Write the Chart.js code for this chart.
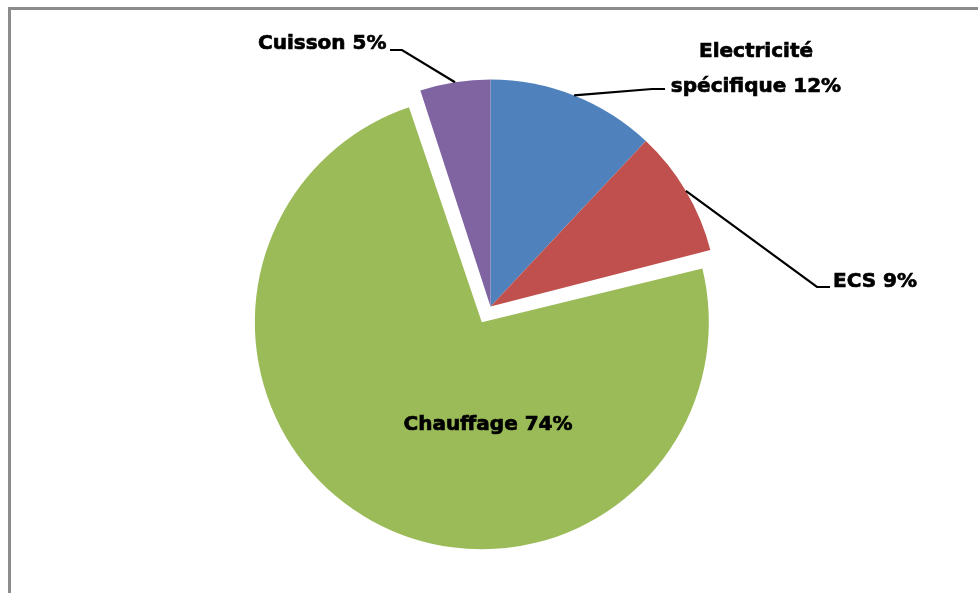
<!DOCTYPE html>
<html>
<head>
<meta charset="utf-8">
<script src="https://cdn.jsdelivr.net/npm/chart.js@4/dist/chart.umd.min.js"></script>
<style>
  html, body { margin: 0; padding: 0; background: #fff; }
  #wrap { width: 978px; height: 593px; position: relative; }
</style>
</head>
<body>
<div id="wrap"><canvas id="c" width="978" height="593"></canvas></div>
<script>
// ---- data ----
const categories = ["Electricité spécifique", "ECS", "Chauffage", "Cuisson"];
const values = [12, 9, 74, 5];
const pctLabels = ["12%", "9%", "74%", "5%"];
const sliceColors = ["#4F81BD", "#C0504D", "#9BBB59", "#8064A2"];
// Chart.js v4 translates an offset arc by offset/4 px; 72 -> ~18 px explode
const sliceOffsets = [0, 0, 72, 0];

// ---- label layout (annotation placement, not data) ----
const labelLayout = [
  { lines: ["Electricité", "spécifique 12%"], x: 756, ys: [57, 92], align: "center", elbow: [652, 89], end: [665, 89] },
  { lines: ["ECS 9%"], x: 833, ys: [287], align: "left", elbow: [817, 287], end: [830, 287] },
  { lines: ["Chauffage 74%"], x: 488, ys: [430], align: "center", elbow: null, end: null },
  { lines: ["Cuisson 5%"], x: 258, ys: [49], align: "left", elbow: [402, 50], end: [390, 50] }
];

const framePlugin = {
  id: "frame",
  beforeDraw(chart) {
    const ctx = chart.ctx;
    ctx.save();
    ctx.fillStyle = "#fff";
    ctx.fillRect(0, 0, chart.width, chart.height);
    ctx.strokeStyle = "#8c8c8c";
    ctx.lineWidth = 3;
    ctx.strokeRect(9.5, 8.5, chart.width + 20, chart.height + 20);
    ctx.restore();
  }
};

// keep exploded slice at the same radius as the others (explode = shift only)
const explodeFixPlugin = {
  id: "explodeFix",
  afterDatasetUpdate(chart, args) {
    args.meta.data.forEach((arc) => {
      const off = ((arc.options && arc.options.offset) || 0) / 4;
      if (!off) return;
      const fix = 1 - Math.sin(Math.min(Math.PI, arc.circumference || 0));
      arc.outerRadius -= off * fix;
    });
  }
};

const labelPlugin = {
  id: "sliceLabels",
  afterDatasetsDraw(chart) {
    const ctx = chart.ctx;
    const meta = chart.getDatasetMeta(0);
    ctx.save();
    ctx.font = "bold 20px 'DejaVu Sans'";
    ctx.fillStyle = "#000";
    ctx.strokeStyle = "#000";
    meta.data.forEach((arc, i) => {
      const L = labelLayout[i];
      const p = arc.getProps(["x", "y", "startAngle", "endAngle", "outerRadius"], true);
      if (L.elbow) {
        const mid = (p.startAngle + p.endAngle) / 2;
        const sx = p.x + Math.cos(mid) * p.outerRadius;
        const sy = p.y + Math.sin(mid) * p.outerRadius;
        ctx.lineWidth = 2.2;
        ctx.beginPath();
        ctx.moveTo(sx, sy);
        ctx.lineTo(L.elbow[0], L.elbow[1]);
        ctx.lineTo(L.end[0], L.end[1]);
        ctx.stroke();
      }
      ctx.textAlign = L.align;
      ctx.textBaseline = "alphabetic";
      ctx.lineWidth = 0.7;
      L.lines.forEach((t, k) => {
        ctx.fillText(t, L.x, L.ys[k]);
        ctx.strokeText(t, L.x, L.ys[k]);
      });
    });
    ctx.restore();
  }
};

new Chart(document.getElementById("c"), {
  type: "pie",
  data: {
    labels: categories,
    datasets: [{
      data: values,
      backgroundColor: sliceColors,
      borderWidth: 0,
      offset: sliceOffsets
    }]
  },
  options: {
    responsive: false,
    animation: false,
    rotation: 0,
    radius: 227,
    layout: { padding: { left: 21, right: 18, top: 73, bottom: 53 } },
    plugins: {
      legend: { display: false },
      tooltip: { enabled: false }
    }
  },
  plugins: [framePlugin, explodeFixPlugin, labelPlugin]
});
</script>
</body>
</html>
